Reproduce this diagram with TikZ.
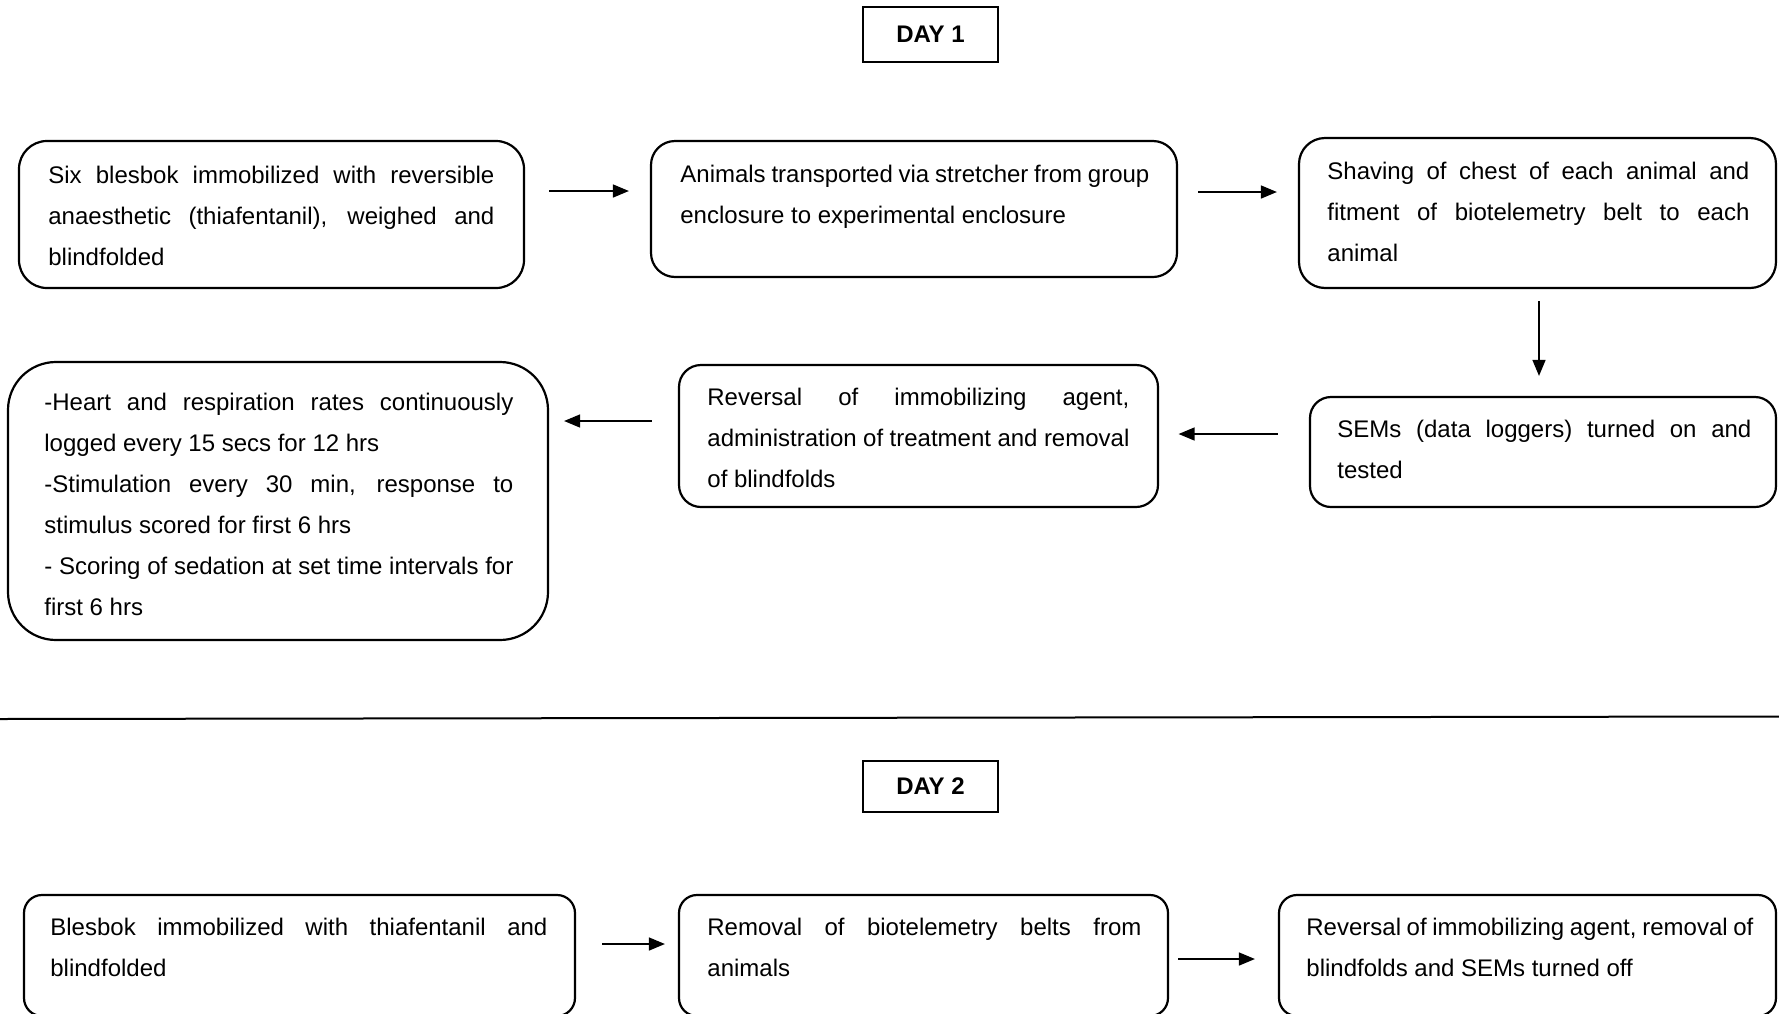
\documentclass[tikz,border=0pt]{standalone}
\usepackage{fontspec}
\setmainfont{Liberation Sans}
\usetikzlibrary{arrows.meta}
\newcommand{\jl}[1]{\makebox[\linewidth][s]{#1}}
\begin{document}
\begin{tikzpicture}[x=0.5pt,y=-0.5pt,
  box/.style={draw, line width=1.1pt, inner sep=0pt},
  daybox/.style={draw, line width=1.2pt, inner sep=0pt, font=\bfseries\fontsize{12}{14}\selectfont, minimum width=67.5pt},
  txt/.style={anchor=base west, inner sep=0pt, font=\fontsize{12}{20.5}\selectfont},
  arr/.style={line width=0.75pt, -{Triangle[length=8pt,width=6.5pt]}}]
\useasboundingbox (0,0) rectangle (1779,1013);
\clip (0,0) rectangle (1779,1013);

% Day labels
\node[daybox, minimum height=27.5pt] (day1) at (930.5,34.5) {DAY 1};
\node[daybox, minimum height=25.5pt] (day2) at (930.5,786.5) {DAY 2};

% Day 1 boxes
\node[box, rounded corners=14pt, minimum width=252.5pt, minimum height=73.5pt] (a) at (271.5,214.5) {};
\node[txt] (ta) at (48,183) {\parbox[t]{223pt}{\jl{Six blesbok immobilized with reversible}\\\jl{anaesthetic (thiafentanil), weighed and}\\blindfolded}};

\node[box, rounded corners=12pt, minimum width=263pt, minimum height=68pt] (b) at (914,209) {};
\node[txt] (tb) at (680,182) {\parbox[t]{234.5pt}{\jl{Animals transported via stretcher from group}\\enclosure to experimental enclosure}};

\node[box, rounded corners=13pt, minimum width=238.5pt, minimum height=75pt] (c) at (1537.5,213) {};
\node[txt] (tc) at (1327,179) {\parbox[t]{211pt}{\jl{Shaving of chest of each animal and}\\\jl{fitment of biotelemetry belt to each}\\animal}};

\node[box, rounded corners=10.5pt, minimum width=233pt, minimum height=55pt] (d) at (1543,452) {};
\node[txt] (td) at (1337,437) {\parbox[t]{207pt}{\jl{SEMs (data loggers) turned on and}\\tested}};

\node[box, rounded corners=11pt, minimum width=239.5pt, minimum height=71pt] (e) at (918.5,436) {};
\node[txt] (te) at (707,405) {\parbox[t]{211pt}{\jl{Reversal of immobilizing agent,}\\\jl{administration of treatment and removal}\\of blindfolds}};

\node[box, rounded corners=24pt, minimum width=270pt, minimum height=139pt] (f) at (278,501) {};
\node[txt] (tf) at (44,410) {\parbox[t]{234.5pt}{\jl{-Heart and respiration rates continuously}\\logged every 15 secs for 12 hrs\\\jl{-Stimulation every 30 min, response to}\\stimulus scored for first 6 hrs\\\jl{- Scoring of sedation at set time intervals for}\\first 6 hrs}};

% Separator
\draw[line width=1pt] (0,719) -- (1779,716.5);

% Day 2 boxes
\node[box, rounded corners=9pt, minimum width=275.5pt, minimum height=60.5pt] (g) at (299.5,955.5) {};
\node[txt] (tg) at (50,935) {\parbox[t]{248.5pt}{\jl{Blesbok immobilized with thiafentanil and}\\blindfolded}};

\node[box, rounded corners=9pt, minimum width=244.5pt, minimum height=60.5pt] (h) at (923.5,955.5) {};
\node[txt] (th) at (707,935) {\parbox[t]{217pt}{\jl{Removal of biotelemetry belts from}\\animals}};

\node[box, rounded corners=9pt, minimum width=248.5pt, minimum height=60.5pt] (i) at (1527.5,955.5) {};
\node[txt] (ti) at (1306,935) {\parbox[t]{223.5pt}{\jl{Reversal of immobilizing agent, removal of}\\blindfolds and SEMs turned off}};

% Connectors
\coordinate (yab) at (0,191);
\coordinate (ybc) at (0,192);
\coordinate (xcd) at (1539,0);
\coordinate (yde) at (0,434);
\coordinate (yef) at (0,421);
\coordinate (ygh) at (0,944);
\coordinate (yhi) at (0,959);
\draw[arr, shorten <=12pt, shorten >=10.5pt] (a.east |- yab) -- (b.west |- yab);
\draw[arr, shorten <=10pt, shorten >=10.5pt] (b.east |- ybc) -- (c.west |- ybc);
\draw[arr, shorten <=6pt, shorten >=10pt] (c.south -| xcd) -- (d.north -| xcd);
\draw[arr, shorten <=15.5pt, shorten >=9.75pt] (d.west |- yde) -- (e.east |- yde);
\draw[arr, shorten <=13pt, shorten >=7.5pt] (e.west |- yef) -- (f.east |- yef);
\draw[arr, shorten <=13pt, shorten >=6.5pt] (g.east |- ygh) -- (h.west |- ygh);
\draw[arr, shorten <=4.5pt, shorten >=11.5pt] (h.east |- yhi) -- (i.west |- yhi);
\end{tikzpicture}
\end{document}
